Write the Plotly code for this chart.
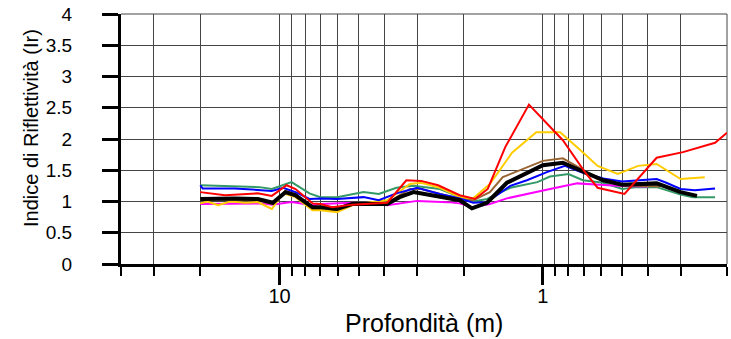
import plotly.graph_objects as go

# Depth (m) and reflectivity index for each profile
red_depth = [20.0, 16.1, 12.1, 10.7, 9.4, 8.7, 7.5, 7.0, 6.3, 5.3, 3.9, 3.3, 2.9, 2.5, 2.07, 1.81, 1.62, 1.39, 1.13, 0.84, 0.69, 0.62, 0.49, 0.37, 0.294, 0.222, 0.20]
red_val = [1.15, 1.10, 1.13, 1.09, 1.26, 1.20, 0.97, 0.96, 0.91, 0.95, 0.98, 1.34, 1.33, 1.26, 1.10, 1.04, 1.20, 1.87, 2.55, 1.98, 1.46, 1.22, 1.12, 1.70, 1.79, 1.94, 2.10]

yellow_depth = [20.0, 18.8, 17.1, 15.4, 13.5, 12.1, 10.7, 9.7, 8.7, 7.5, 7.0, 6.05, 5.3, 4.5, 3.9, 3.2, 2.9, 2.46, 2.07, 1.84, 1.59, 1.31, 1.06, 0.86, 0.72, 0.62, 0.52, 0.435, 0.37, 0.30, 0.243]
yellow_val = [0.97, 1.00, 0.94, 1.00, 0.98, 0.99, 0.88, 1.13, 1.07, 0.86, 0.86, 0.83, 0.94, 0.99, 1.02, 1.28, 1.30, 1.22, 1.07, 1.05, 1.28, 1.78, 2.11, 2.11, 1.82, 1.57, 1.44, 1.57, 1.60, 1.36, 1.39]

brown_depth = [20.0, 17.6, 14.8, 12.1, 10.7, 9.5, 8.7, 7.5, 6.05, 5.3, 3.9, 3.2, 2.9, 2.46, 2.07, 1.84, 1.59, 1.42, 1.0, 0.84, 0.68, 0.59, 0.50, 0.39, 0.36]
brown_val = [1.02, 1.03, 1.03, 1.02, 0.96, 1.17, 1.12, 0.88, 0.86, 0.95, 0.98, 1.20, 1.20, 1.12, 1.05, 1.02, 1.15, 1.39, 1.65, 1.69, 1.47, 1.34, 1.26, 1.25, 1.24]

black_depth = [20.0, 17.6, 14.8, 12.1, 10.6, 9.5, 8.7, 7.5, 7.0, 6.05, 5.3, 3.9, 3.5, 3.1, 2.46, 2.07, 1.86, 1.63, 1.37, 1.15, 1.0, 0.84, 0.68, 0.59, 0.50, 0.37, 0.30, 0.26]
black_val = [1.04, 1.05, 1.05, 1.04, 0.98, 1.15, 1.10, 0.91, 0.91, 0.88, 0.96, 0.96, 1.07, 1.15, 1.07, 1.02, 0.89, 0.98, 1.30, 1.46, 1.58, 1.62, 1.46, 1.34, 1.27, 1.29, 1.15, 1.09]

blue_depth = [20.0, 19.6, 14.8, 10.7, 9.7, 8.7, 7.7, 7.0, 6.05, 4.8, 4.2, 3.6, 3.0, 2.46, 2.07, 1.84, 1.63, 1.33, 1.15, 0.966, 0.825, 0.705, 0.59, 0.50, 0.43, 0.37, 0.34, 0.30, 0.265, 0.222]
blue_val = [1.26, 1.21, 1.21, 1.17, 1.22, 1.15, 1.04, 1.05, 1.04, 1.07, 1.02, 1.13, 1.22, 1.12, 1.05, 0.98, 0.99, 1.25, 1.34, 1.47, 1.57, 1.46, 1.37, 1.32, 1.34, 1.36, 1.30, 1.20, 1.18, 1.21]

green_depth = [20.0, 11.9, 10.7, 9.0, 7.7, 7.0, 6.05, 4.8, 4.2, 3.6, 3.1, 2.46, 2.07, 1.84, 1.63, 1.33, 1.05, 0.94, 0.80, 0.705, 0.59, 0.50, 0.44, 0.37, 0.30, 0.27, 0.222]
green_val = [1.26, 1.23, 1.20, 1.31, 1.13, 1.07, 1.07, 1.15, 1.12, 1.22, 1.25, 1.20, 1.07, 1.00, 1.04, 1.22, 1.31, 1.40, 1.44, 1.34, 1.30, 1.20, 1.23, 1.23, 1.11, 1.07, 1.07]

magenta_depth = [20.0, 11.6, 10.7, 9.0, 7.5, 7.0, 5.3, 3.9, 3.0, 2.3, 2.07, 1.86, 1.59, 1.37, 0.94, 0.74, 0.61, 0.50, 0.40]
magenta_val = [0.96, 0.97, 0.95, 0.99, 0.94, 0.96, 0.98, 0.94, 1.01, 0.99, 0.97, 0.91, 0.96, 1.05, 1.20, 1.29, 1.27, 1.25, 1.24]

major_ticks = [10, 1]
major_labels = ["10", "1"]
minor_ticks = [40, 30, 20, 9, 8, 7, 6, 5, 4, 3, 2, 0.9, 0.8, 0.7, 0.6, 0.5, 0.4, 0.3, 0.2]

series = [
    (green_depth, green_val, "#339966", 2),
    (magenta_depth, magenta_val, "#FF00FF", 2),
    (brown_depth, brown_val, "#996633", 2),
    (yellow_depth, yellow_val, "#FFCC00", 2),
    (blue_depth, blue_val, "#0000FF", 2),
    (black_depth, black_val, "#000000", 4),
    (red_depth, red_val, "#FF0000", 2),
]

fig = go.Figure()
for xs, ys, col, w in series:
    fig.add_trace(go.Scatter(x=xs, y=ys, mode="lines",
                             line=dict(color=col, width=w), showlegend=False))

FONT = "Arial, Liberation Sans, sans-serif"
GRID = "#444"

fig.update_layout(
    width=731, height=339,
    margin=dict(l=121, r=4, t=14, b=75, autoexpand=False),
    paper_bgcolor="white", plot_bgcolor="white",
    font=dict(family=FONT, size=20, color="black"),
    showlegend=False,
    annotations=[
        dict(text="Indice di Riflettività (Ir)", xref="paper", yref="paper",
             x=-0.1485, y=0.544, xanchor="center", yanchor="middle",
             textangle=-90, showarrow=False, font=dict(family=FONT, size=20, color="black")),
        dict(text="Profondità (m)", xref="paper", yref="paper",
             x=0.5, y=-0.236, xanchor="center", yanchor="middle",
             showarrow=False, font=dict(family=FONT, size=25, color="black")),
    ],
    shapes=[
        # grid lines on the top and right edges of the plotting area
        dict(type="line", xref="paper", yref="paper", x0=0, x1=1, y0=1, y1=1,
             line=dict(color=GRID, width=1), layer="below"),
        dict(type="line", xref="paper", yref="paper", x0=1, x1=1, y0=0, y1=1,
             line=dict(color=GRID, width=1), layer="below"),
    ],
)

fig.update_xaxes(
    type="log", range=[1.60206, -0.69897], autorange=False, automargin=False,
    tickmode="array", tickvals=major_ticks, ticktext=major_labels,
    ticks="outside", ticklen=18, tickwidth=3, tickcolor="black",
    showline=True, linecolor="black", linewidth=3,
    showgrid=True, gridcolor=GRID, gridwidth=1,
    tickfont=dict(size=20), ticklabelstandoff=-6,
    minor=dict(tickmode="array", tickvals=minor_ticks, ticks="outside", ticklen=9,
               tickwidth=2, tickcolor="black", showgrid=True, gridcolor=GRID, gridwidth=1),
    zeroline=False,
)

fig.update_yaxes(
    range=[0, 4], autorange=False, automargin=False,
    tickmode="linear", tick0=0, dtick=0.5,
    ticks="outside", ticklen=16, tickwidth=3, tickcolor="black",
    showline=True, linecolor="black", linewidth=3,
    showgrid=True, gridcolor=GRID, gridwidth=1,
    tickfont=dict(size=19), ticklabelstandoff=26,
    zeroline=False,
)

fig.write_html("out.html",
               config={"displayModeBar": False},
               post_script="document.body.style.margin='0';document.body.style.padding='0';")
